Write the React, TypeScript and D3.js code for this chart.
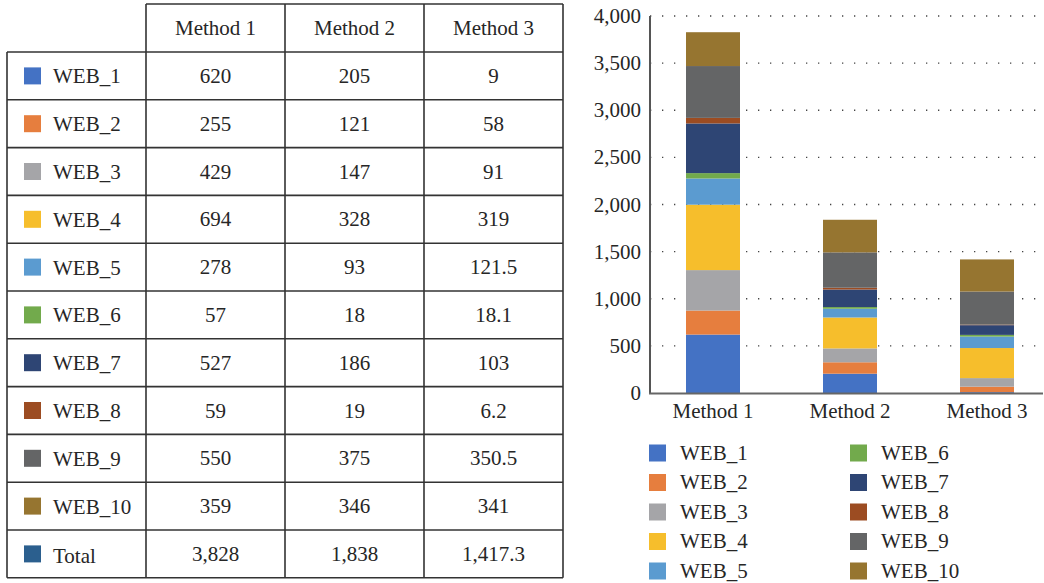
import React from "react";
import * as d3 from "d3";

const methods = ["Method 1", "Method 2", "Method 3"];
const series = ["WEB_1", "WEB_2", "WEB_3", "WEB_4", "WEB_5", "WEB_6", "WEB_7", "WEB_8", "WEB_9", "WEB_10"];
const method1 = [620, 255, 429, 694, 278, 57, 527, 59, 550, 359];
const method2 = [205, 121, 147, 328, 93, 18, 186, 19, 375, 346];
const method3 = [9, 58, 91, 319, 121.5, 18.1, 103, 6.2, 350.5, 341];
const totals = ["3,828", "1,838", "1,417.3"];
const tableText1 = ["620", "255", "429", "694", "278", "57", "527", "59", "550", "359"];
const tableText2 = ["205", "121", "147", "328", "93", "18", "186", "19", "375", "346"];
const tableText3 = ["9", "58", "91", "319", "121.5", "18.1", "103", "6.2", "350.5", "341"];
const colors = ["#4472C4", "#E67E3E", "#A5A5A8", "#F6BE2C", "#5B9BD0", "#72AA4C", "#2E4574", "#9C4C22", "#646566", "#967530"];
const totalColor = "#2B5F8E";
const yTicks = [0, 500, 1000, 1500, 2000, 2500, 3000, 3500, 4000];

const FONT = "'Liberation Serif', 'DejaVu Serif', serif";
const TEXT = "#262626";
const FS = 21;

export default function App() {
  const W = 1044, H = 583;
  // table geometry
  const colX = [7, 146, 285, 424, 563];
  const headerTop = 4, headerBottom = 52, rowH = 47.8;
  const nRows = series.length + 1;
  const tableBottom = headerBottom + nRows * rowH;
  const tableCols = [tableText1, tableText2, tableText3];

  // chart
  const y = d3.scaleLinear().domain([0, 4000]).range([393, 16]);
  const x = d3.scalePoint<string>().domain(methods).range([713, 987]);
  const barW = 54;
  const values = [method1, method2, method3];
  const rows = methods.map((m, i) => {
    const o: any = { method: m };
    series.forEach((s, j) => (o[s] = values[i][j]));
    return o;
  });
  const stacked = d3.stack<any>().keys(series)(rows);

  const lineColor = "#333";
  return (
    <svg width={W} height={H} style={{ position: "absolute", left: 0, top: 0, background: "#fff" }} fontFamily={FONT}>
      {/* table */}
      <g>
        <line x1={colX[1]} x2={colX[4]} y1={headerTop} y2={headerTop} stroke={lineColor} strokeWidth={1.6} />
        {d3.range(nRows + 1).map((i) => (
          <line key={"h" + i} x1={colX[0]} x2={colX[4]} y1={headerBottom + i * rowH} y2={headerBottom + i * rowH} stroke={lineColor} strokeWidth={1.6} />
        ))}
        <line x1={colX[0]} x2={colX[0]} y1={headerBottom} y2={tableBottom} stroke={lineColor} strokeWidth={1.6} />
        {colX.slice(1).map((cx, i) => (
          <line key={"v" + i} x1={cx} x2={cx} y1={headerTop} y2={tableBottom} stroke={lineColor} strokeWidth={1.6} />
        ))}
        {methods.map((m, i) => (
          <text key={"hd" + i} x={(colX[i + 1] + colX[i + 2]) / 2} y={(headerTop + headerBottom) / 2 + 7} textAnchor="middle" fontSize={FS} fill={TEXT}>{m}</text>
        ))}
        {series.concat(["Total"]).map((s, r) => {
          const cy = headerBottom + r * rowH + rowH / 2;
          return (
            <g key={"r" + r}>
              <rect x={24} y={cy - 8.5} width={17} height={17} fill={r < series.length ? colors[r] : totalColor} />
              <text x={53} y={cy + 7.5 + (r === series.length ? 2 : 0)} fontSize={FS} fill={TEXT}>{s}</text>
              {[0, 1, 2].map((c) => (
                <text key={c} x={(colX[c + 1] + colX[c + 2]) / 2} y={cy + 7} textAnchor="middle" fontSize={FS} fill={TEXT}>
                  {r < series.length ? tableCols[c][r] : totals[c]}
                </text>
              ))}
            </g>
          );
        })}
      </g>

      {/* chart gridlines */}
      {yTicks.filter((t) => t > 0).map((t) => (
        <line key={"g" + t} x1={650} x2={1040} y1={y(t)} y2={y(t)} stroke="#444" strokeWidth={1.3} strokeDasharray="1.3 10.7" />
      ))}
      {/* bars */}
      {stacked.map((layer, li) => (
        <g key={"l" + li} fill={colors[li]}>
          {layer.map((d, di) => (
            <rect key={di} x={(x(methods[di]) as number) - barW / 2} y={y(d[1])} width={barW} height={Math.max(0, y(d[0]) - y(d[1]))} />
          ))}
        </g>
      ))}
      {/* axes */}
      <line x1={650} x2={650} y1={16} y2={394} stroke="#555" strokeWidth={2} />
      <line x1={649} x2={1043} y1={393.5} y2={393.5} stroke="#666" strokeWidth={2.2} />
      {yTicks.map((t) => (
        <text key={"yt" + t} x={641} y={y(t) + 7} textAnchor="end" fontSize={FS} fill={TEXT}>{d3.format(",")(t)}</text>
      ))}
      {methods.map((m) => (
        <text key={"xt" + m} x={x(m)} y={418} textAnchor="middle" fontSize={FS} fill={TEXT}>{m}</text>
      ))}
      {/* legend */}
      {series.map((s, i) => {
        const col = Math.floor(i / 5), row = i % 5;
        const sx = col === 0 ? 649 : 850;
        const cy = 453 + row * 29.5;
        return (
          <g key={"lg" + i}>
            <rect x={sx} y={cy - 8.5} width={17} height={17} fill={colors[i]} />
            <text x={sx + 31} y={cy + 6.5} fontSize={FS} fill={TEXT}>{s}</text>
          </g>
        );
      })}
    </svg>
  );
}
